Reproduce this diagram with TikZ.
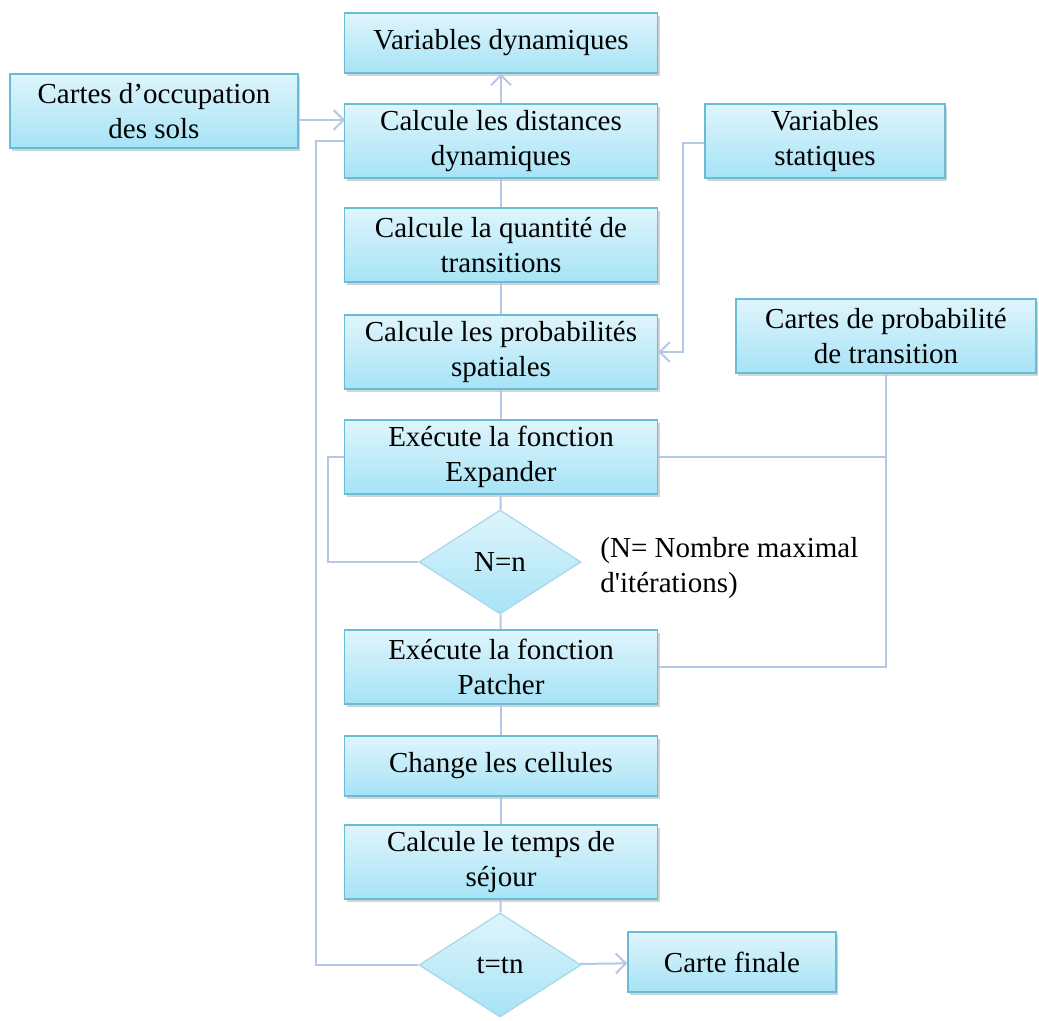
\documentclass[tikz,border=0pt]{standalone}
\usepackage{fontspec}
\setmainfont{Liberation Serif}
\usepackage{tikz}
\usetikzlibrary{positioning,arrows.meta,calc,shapes.geometric,shadows}
\definecolor{boxtop}{HTML}{DFF5FC}
\definecolor{boxbot}{HTML}{A6E3F6}
\definecolor{boxline}{HTML}{6ABCD5}
\definecolor{linkcol}{HTML}{B6C7E6}
\tikzset{
    x=0.5pt,
    y=-0.5pt,
    block/.style = {
        draw=boxline,
        shape=rectangle,
        top color=boxtop,
        bottom color=boxbot,
        minimum width=156.5pt,
        minimum height=37pt,
        inner sep=2pt,
        align=center,
        line width=0.8pt,
        drop shadow={shadow xshift=1.2pt, shadow yshift=-1.5pt, opacity=0.35}
    },
    decision/.style = {
        draw=boxline!60,
        shape=diamond,
        top color=boxtop,
        bottom color=boxbot,
        minimum width=81pt,
        minimum height=52pt,
        inner sep=0pt,
        line width=0.6pt
    },
    note/.style = {
        shape=rectangle,
        align=left,
        inner sep=0pt
    },
    link/.style = {
        draw=linkcol,
        line width=1pt
    },
    >={Straight Barb[length=5pt,width=10pt]},
}

\begin{document}
\begin{tikzpicture}[font=\fontsize{14.5}{17.5}\selectfont]
            \useasboundingbox (0,0) rectangle (1039,1021);

            \node[block, minimum height=30pt] (vardyn) at (501,43) {Variables dynamiques};
            \node[block, minimum width=144pt] (cartocc) at (154,111) {Cartes d’occupation\\des sols};
            \node[block] (caldist) at (501,141) {Calcule les distances\\dynamiques};
            \node[block, minimum width=120pt] (varstat) at (825,141) {Variables\\statiques};
            \node[block] (calquant) at (501,245) {Calcule la quantité de\\transitions};
            \node[block] (calprob) at (501,352) {Calcule les probabilités\\spatiales};
            \node[block, minimum width=150pt] (cartprob) at (886,336) {Cartes de probabilité\\de transition};
            \node[block] (expander) at (501,457) {Exécute la fonction\\Expander};
            \node[decision] (testn) at (500,562) {N=n};
            \node[note, anchor=west] (nmax) at (600,568) {(N= Nombre maximal\\d\textquotesingle itérations)};
            \node[block] (patcher) at (501,667) {Exécute la fonction\\Patcher};
            \node[block, minimum height=30pt] (change) at (501,766) {Change les cellules};
            \node[block] (sejour) at (501,862) {Calcule le temps de\\séjour};
            \node[decision] (testt) at (500,965) {t=tn};
            \node[block, minimum width=104pt, minimum height=30pt] (final) at (732,962) {Carte finale};

            \coordinate (occin) at (345,120);
            \coordinate (statturn) at (683,143);
            \coordinate (loopn) at (328,0);
            \coordinate (loopt) at (316,0);

            \path[link, ->] (caldist) -- (vardyn);
            \path[link, ->] (cartocc.east |- occin) -- (occin);
            \path[link] (caldist) -- (calquant);
            \path[link] (calquant) -- (calprob);
            \path[link] (calprob) -- (expander);
            \path[link] (expander) -- (testn);
            \path[link] (testn) -- (patcher);
            \path[link] (patcher) -- (change);
            \path[link] (change) -- (sejour);
            \path[link] (sejour) -- (testt);
            \path[link, ->] (varstat.west |- statturn) -- (statturn) |- (calprob.east);
            \path[link] (cartprob.south) |- (patcher.east);
            \path[link] (cartprob.south |- expander.east) -- (expander.east);
            \path[link] (expander.west) -- (loopn |- expander.west) |- (testn.west);
            \path[link] (testt.west) -- (loopt |- testt.west) |- (caldist.west);
            \path[link, ->] (testt) -- (final);
        \end{tikzpicture}
\end{document}
